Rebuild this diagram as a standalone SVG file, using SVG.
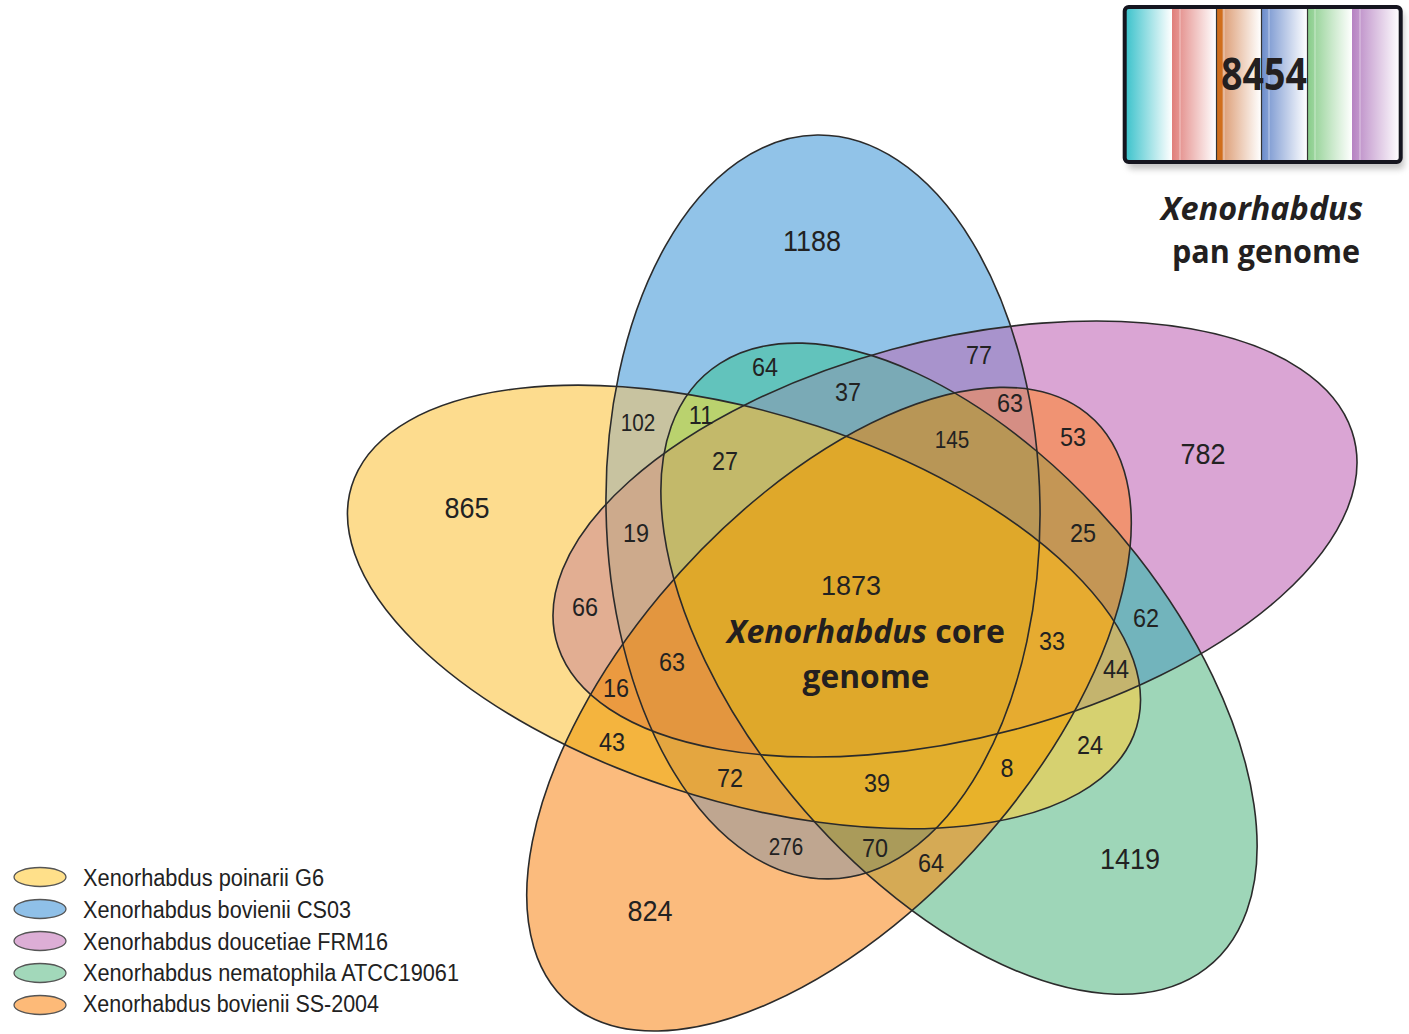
<svg xmlns="http://www.w3.org/2000/svg" width="1409" height="1034" viewBox="0 0 1409 1034">
<style>
.num{font-family:"Liberation Sans",Arial,sans-serif;fill:#222;text-anchor:middle}
.n2{font-size:26px}.n3{font-size:23px}.nb{font-size:30px}
.leg{font-family:"Liberation Sans",Arial,sans-serif;font-size:23px;fill:#222}
.cal{font-family:"Open Sans","Noto Sans",sans-serif;font-weight:700;fill:#231f20;text-anchor:middle}
.ol{fill:none;stroke:#2b2b2b;stroke-width:1.6}
.lg{stroke:#555;stroke-width:1.3}
</style>
<defs>
<ellipse id="eY" cx="744" cy="674.4" rx="415" ry="213.8" transform="scale(1 0.9) rotate(20.15 744 674.4)" vector-effect="non-scaling-stroke"/>
<ellipse id="eB" cx="823" cy="563.3" rx="413.3" ry="217" transform="scale(1 0.9) rotate(89.2 823 563.3)" vector-effect="non-scaling-stroke"/>
<ellipse id="eP" cx="955" cy="598.9" rx="414.6" ry="219.9" transform="scale(1 0.9) rotate(-16.79 955 598.9)" vector-effect="non-scaling-stroke"/>
<ellipse id="eG" cx="959" cy="743" rx="415" ry="218" transform="scale(1 0.9) rotate(54.85 959 743)" vector-effect="non-scaling-stroke"/>
<ellipse id="eO" cx="829" cy="788" rx="418" ry="211" transform="scale(1 0.9) rotate(126.85 829 788)" vector-effect="non-scaling-stroke"/>
<clipPath id="cY"><use href="#eY"/></clipPath>
<clipPath id="cB"><use href="#eB"/></clipPath>
<clipPath id="cP"><use href="#eP"/></clipPath>
<clipPath id="cG"><use href="#eG"/></clipPath>
<clipPath id="cO"><use href="#eO"/></clipPath>
<linearGradient id="s1" x1="0" x2="1" y1="0" y2="0"><stop offset="0" stop-color="#3EC3CC"/><stop offset="1" stop-color="#FFFFFF"/></linearGradient>
<linearGradient id="s2" x1="0" x2="1" y1="0" y2="0"><stop offset="0" stop-color="#E07E7A"/><stop offset="1" stop-color="#FFFFFF"/></linearGradient>
<linearGradient id="s3" x1="0" x2="1" y1="0" y2="0"><stop offset="0" stop-color="#D06E1C"/><stop offset="0.13" stop-color="#D06E1C"/><stop offset="0.16" stop-color="#DD9F78"/><stop offset="1" stop-color="#FFFFFF"/></linearGradient>
<linearGradient id="s4" x1="0" x2="1" y1="0" y2="0"><stop offset="0" stop-color="#6A8BCB"/><stop offset="1" stop-color="#FFFFFF"/></linearGradient>
<linearGradient id="s5" x1="0" x2="1" y1="0" y2="0"><stop offset="0" stop-color="#86CC88"/><stop offset="1" stop-color="#FFFFFF"/></linearGradient>
<linearGradient id="s6" x1="0" x2="1" y1="0" y2="0"><stop offset="0" stop-color="#B682C2"/><stop offset="1" stop-color="#FFFFFF"/></linearGradient>
<filter id="sh" x="-10%" y="-10%" width="120%" height="130%"><feGaussianBlur stdDeviation="3"/></filter>
</defs>

<g id="regions">
<use href="#eY" fill="#FDDC8E"/>
<use href="#eB" fill="#91C3E8"/>
<use href="#eP" fill="#DAA5D4"/>
<use href="#eG" fill="#9ED6B8"/>
<use href="#eO" fill="#FBBB7D"/>
<g clip-path="url(#cY)"><use href="#eB" fill="#C8C3A0"/></g>
<g clip-path="url(#cY)"><use href="#eP" fill="#E2AE92"/></g>
<g clip-path="url(#cY)"><use href="#eG" fill="#D6D170"/></g>
<g clip-path="url(#cY)"><use href="#eO" fill="#F4B43E"/></g>
<g clip-path="url(#cB)"><use href="#eP" fill="#A893CC"/></g>
<g clip-path="url(#cB)"><use href="#eG" fill="#62C3BC"/></g>
<g clip-path="url(#cB)"><use href="#eO" fill="#BFA690"/></g>
<g clip-path="url(#cP)"><use href="#eG" fill="#72B4BC"/></g>
<g clip-path="url(#cP)"><use href="#eO" fill="#F09373"/></g>
<g clip-path="url(#cG)"><use href="#eO" fill="#D5AA55"/></g>
<g clip-path="url(#cY)"><g clip-path="url(#cB)"><use href="#eP" fill="#CDAA8C"/></g></g>
<g clip-path="url(#cY)"><g clip-path="url(#cB)"><use href="#eG" fill="#BAD26E"/></g></g>
<g clip-path="url(#cY)"><g clip-path="url(#cB)"><use href="#eO" fill="#E4A640"/></g></g>
<g clip-path="url(#cY)"><g clip-path="url(#cP)"><use href="#eG" fill="#C4B46E"/></g></g>
<g clip-path="url(#cY)"><g clip-path="url(#cP)"><use href="#eO" fill="#EB9A40"/></g></g>
<g clip-path="url(#cY)"><g clip-path="url(#cG)"><use href="#eO" fill="#E8B22A"/></g></g>
<g clip-path="url(#cB)"><g clip-path="url(#cP)"><use href="#eG" fill="#7AAAB6"/></g></g>
<g clip-path="url(#cB)"><g clip-path="url(#cP)"><use href="#eO" fill="#D58E84"/></g></g>
<g clip-path="url(#cB)"><g clip-path="url(#cG)"><use href="#eO" fill="#AA9B5A"/></g></g>
<g clip-path="url(#cP)"><g clip-path="url(#cG)"><use href="#eO" fill="#C49655"/></g></g>
<g clip-path="url(#cY)"><g clip-path="url(#cB)"><g clip-path="url(#cP)"><use href="#eG" fill="#C3B96A"/></g></g></g>
<g clip-path="url(#cY)"><g clip-path="url(#cB)"><g clip-path="url(#cP)"><use href="#eO" fill="#E3963F"/></g></g></g>
<g clip-path="url(#cY)"><g clip-path="url(#cB)"><g clip-path="url(#cG)"><use href="#eO" fill="#E3AF2D"/></g></g></g>
<g clip-path="url(#cY)"><g clip-path="url(#cP)"><g clip-path="url(#cG)"><use href="#eO" fill="#E6AB30"/></g></g></g>
<g clip-path="url(#cB)"><g clip-path="url(#cP)"><g clip-path="url(#cG)"><use href="#eO" fill="#B89656"/></g></g></g>
<g clip-path="url(#cY)"><g clip-path="url(#cB)"><g clip-path="url(#cP)"><g clip-path="url(#cG)"><use href="#eO" fill="#DFA82A"/></g></g></g></g>
</g>

<g id="outlines">
<g id="set-poinarii"><use href="#eY" class="ol"/></g>
<g id="set-bovienii-CS03"><use href="#eB" class="ol"/></g>
<g id="set-doucetiae"><use href="#eP" class="ol"/></g>
<g id="set-nematophila"><use href="#eG" class="ol"/></g>
<g id="set-bovienii-SS2004"><use href="#eO" class="ol"/></g>
</g>

<g id="counts" class="num" transform="scale(0.9 1)">
<text class="nb" x="902.2" y="251">1188</text>
<text class="nb" x="1336.7" y="464">782</text>
<text class="nb" x="518.9" y="518">865</text>
<text class="nb" x="1255.6" y="869">1419</text>
<text class="nb" x="722.2" y="921">824</text>
<text class="n2" x="850" y="376">64</text>
<text class="n2" x="942.2" y="401">37</text>
<text class="n2" x="1087.8" y="364">77</text>
<text class="n2" x="1122.2" y="412">63</text>
<text class="n3" x="708.9" y="431">102</text>
<text class="n2" x="778.9" y="424">11</text>
<text class="n3" x="1057.8" y="448">145</text>
<text class="n2" x="1192.2" y="446">53</text>
<text class="n2" x="805.6" y="470">27</text>
<text class="n2" x="706.7" y="542">19</text>
<text class="n2" x="1203.3" y="542">25</text>
<text class="n2" x="650" y="616">66</text>
<text class="n2" x="1273.3" y="627">62</text>
<text class="n2" x="1168.9" y="650">33</text>
<text class="n2" x="746.7" y="671">63</text>
<text class="n2" x="1240" y="678">44</text>
<text class="n2" x="684.4" y="697">16</text>
<text class="n2" x="680" y="751">43</text>
<text class="n2" x="1211.1" y="754">24</text>
<text class="n2" x="1118.9" y="777">8</text>
<text class="n2" x="811.1" y="787">72</text>
<text class="n2" x="974.4" y="792">39</text>
<text class="n3" x="873.3" y="855">276</text>
<text class="n2" x="972.2" y="857">70</text>
<text class="n2" x="1034.4" y="872">64</text>
</g>

<g id="core-label">
<text class="num" x="851" y="595" style="font-size:27px">1873</text>
<text class="cal" x="866" y="643" style="font-size:32px" textLength="278" lengthAdjust="spacingAndGlyphs"><tspan font-style="italic">Xenorhabdus</tspan> core</text>
<text class="cal" x="866" y="688" style="font-size:32px" textLength="127" lengthAdjust="spacingAndGlyphs">genome</text>
</g>

<g id="pan-genome">
<rect x="1128" y="12" width="276" height="157" rx="4" fill="#888" opacity="0.5" filter="url(#sh)"/>
<rect x="1126" y="8" width="46" height="153" fill="url(#s1)"/>
<rect x="1172" y="8" width="44" height="153" fill="url(#s2)"/>
<rect x="1216" y="8" width="45" height="153" fill="url(#s3)"/>
<rect x="1261" y="8" width="46" height="153" fill="url(#s4)"/>
<rect x="1307" y="8" width="45" height="153" fill="url(#s5)"/>
<rect x="1352" y="8" width="48" height="153" fill="url(#s6)"/>
<g stroke="#fff" stroke-width="0.8" opacity="0.6">
<line x1="1180" y1="8" x2="1180" y2="161"/><line x1="1224" y1="8" x2="1224" y2="161"/><line x1="1269" y1="8" x2="1269" y2="161"/><line x1="1315" y1="8" x2="1315" y2="161"/><line x1="1360" y1="8" x2="1360" y2="161"/>
</g>
<g stroke="#333" stroke-width="1.2">
<line x1="1216.5" y1="8" x2="1216.5" y2="161"/><line x1="1261.5" y1="8" x2="1261.5" y2="161"/><line x1="1307.5" y1="8" x2="1307.5" y2="161"/>
</g>
<rect x="1124.7" y="7" width="276" height="155" rx="4" fill="none" stroke="#15151f" stroke-width="4"/>
<text class="cal" x="1264" y="90" style="font-size:44px" textLength="86" lengthAdjust="spacingAndGlyphs">8454</text>
<text class="cal" x="1262" y="220" style="font-size:32px;font-style:italic" textLength="202" lengthAdjust="spacingAndGlyphs">Xenorhabdus</text>
<text class="cal" x="1266" y="263" style="font-size:32px" textLength="188" lengthAdjust="spacingAndGlyphs">pan genome</text>
</g>

<g id="legend">
<g id="legend-poinarii"><ellipse cx="40" cy="877" rx="26" ry="9.5" fill="#FFE08A" class="lg"/><text class="leg" x="83" y="886" textLength="241" lengthAdjust="spacingAndGlyphs">Xenorhabdus poinarii G6</text></g>
<g id="legend-bovienii-CS03"><ellipse cx="40" cy="909" rx="26" ry="9.5" fill="#8FC0E8" class="lg"/><text class="leg" x="83" y="918" textLength="268" lengthAdjust="spacingAndGlyphs">Xenorhabdus bovienii CS03</text></g>
<g id="legend-doucetiae"><ellipse cx="40" cy="941" rx="26" ry="9.5" fill="#DDAED6" class="lg"/><text class="leg" x="83" y="950" textLength="305" lengthAdjust="spacingAndGlyphs">Xenorhabdus doucetiae FRM16</text></g>
<g id="legend-nematophila"><ellipse cx="40" cy="973" rx="26" ry="9.5" fill="#A2D8BA" class="lg"/><text class="leg" x="83" y="981" textLength="376" lengthAdjust="spacingAndGlyphs">Xenorhabdus nematophila ATCC19061</text></g>
<g id="legend-bovienii-SS2004"><ellipse cx="40" cy="1005" rx="26" ry="9.5" fill="#FDBA78" class="lg"/><text class="leg" x="83" y="1012" textLength="296" lengthAdjust="spacingAndGlyphs">Xenorhabdus bovienii SS-2004</text></g>
</g>
</svg>
